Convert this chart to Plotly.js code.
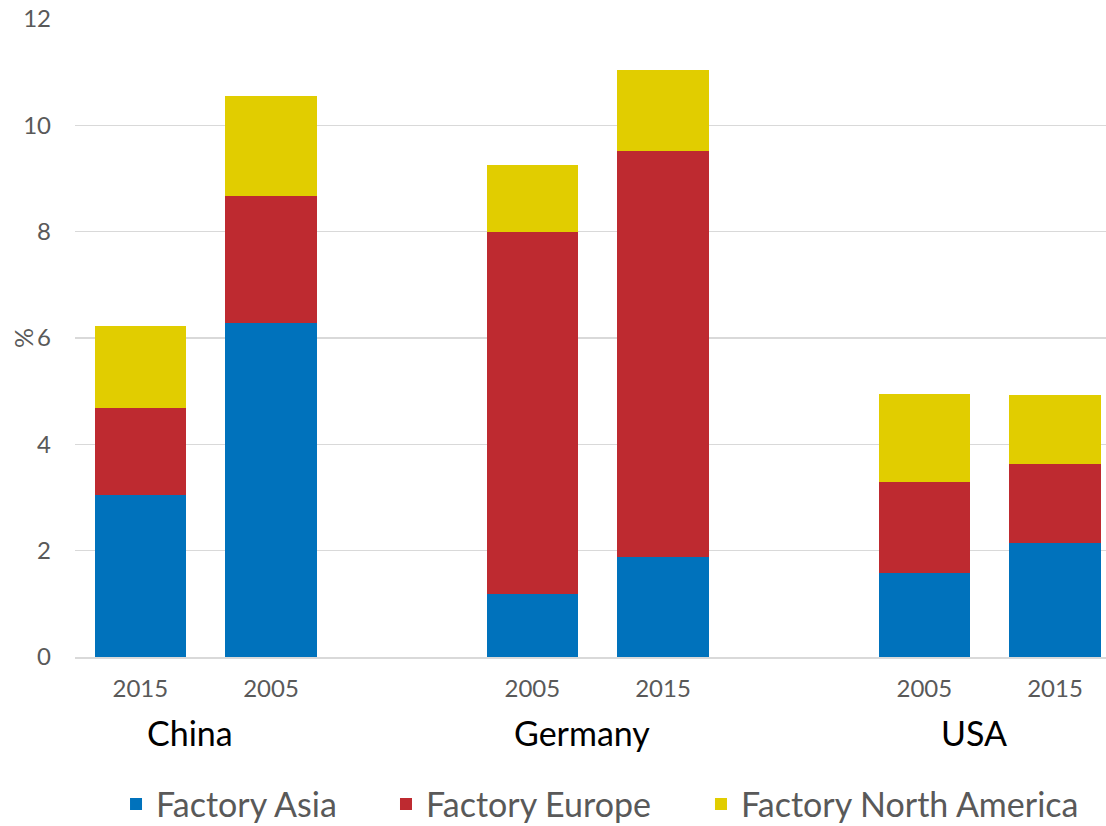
<!DOCTYPE html>
<html>
<head>
<meta charset="utf-8">
<script src="https://cdn.plot.ly/plotly-3.0.1.min.js"></script>
<style>html,body{margin:0;padding:0;background:#fff;}#chart{width:1106px;height:826px;}</style>
</head>
<body>
<div id="chart"></div>
<script>
const xPositions = [0, 1, 3, 4, 6, 7];
const yearLabels = ["2015", "2005", "2005", "2015", "2005", "2015"];
const countries = ["China", "Germany", "USA"];
const countryCenters = [0.5, 3.5, 6.5];
const factoryAsia = [3.04, 6.28, 1.19, 1.88, 1.58, 2.14];
const factoryEurope = [1.65, 2.39, 6.80, 7.64, 1.71, 1.49];
const factoryNorthAmerica = [1.54, 1.89, 1.26, 1.52, 1.66, 1.29];
const seriesNames = ["Factory Asia", "Factory Europe", "Factory North America"];
const seriesColors = ["#0072BC", "#BE2A30", "#E1CD00"];
const yAxisTitle = "%";

const font = "Lato, 'Open Sans', sans-serif";
const series = [factoryAsia, factoryEurope, factoryNorthAmerica];
const legendIds = ["legend", "legend2", "legend3"];
const legendX = [0.1049, 0.349, 0.6338];

const traces = series.map((vals, i) => ({
  type: "bar",
  x: xPositions,
  y: vals,
  name: seriesNames[i],
  legend: legendIds[i],
  marker: {color: seriesColors[i], line: {width: 0}},
  width: 0.7,
  hoverinfo: "skip"
}));

const annotations = countries.map((c, i) => ({
  text: c, x: countryCenters[i], xref: "x", y: -0.118, yref: "paper",
  yanchor: "middle", showarrow: false, xshift: -16,
  font: {size: 34, color: "#000000", family: font}
}));
annotations.push({
  text: yAxisTitle, textangle: -90, x: 0, xref: "paper", xanchor: "center",
  y: 0.5, yref: "paper", yanchor: "middle", xshift: -52, showarrow: false,
  font: {size: 25, color: "#595959", family: font}
});

const layout = {
  width: 1106, height: 826,
  margin: {l: 75, r: 0, t: 19, b: 169},
  barmode: "stack",
  paper_bgcolor: "#fff", plot_bgcolor: "#fff",
  font: {family: font, color: "#595959"},
  xaxis: {
    range: [-0.5, 7.39],
    tickvals: xPositions, ticktext: yearLabels,
    showgrid: false, zeroline: false,
    showline: true, linecolor: "#D9D9D9", linewidth: 2,
    ticks: "", ticklabelstandoff: 9,
    tickfont: {size: 24, color: "#595959"}
  },
  yaxis: {
    range: [0, 12], dtick: 2,
    showgrid: true, gridcolor: "#D9D9D9", gridwidth: 1.5,
    zeroline: false, showline: false, ticks: "",
    ticklabelstandoff: 23,
    tickfont: {size: 24, color: "#595959"}
  },
  showlegend: true,
  annotations: annotations
};
legendIds.forEach((id, i) => {
  layout[id] = {
    orientation: "h", xref: "container", x: legendX[i], xanchor: "left",
    yref: "container", y: 0.026, yanchor: "middle",
    font: {size: 34, color: "#595959"}, itemwidth: 30,
    bgcolor: "rgba(0,0,0,0)"
  };
});

Plotly.newPlot("chart", traces, layout, {displayModeBar: false, staticPlot: true});
</script>
</body>
</html>
